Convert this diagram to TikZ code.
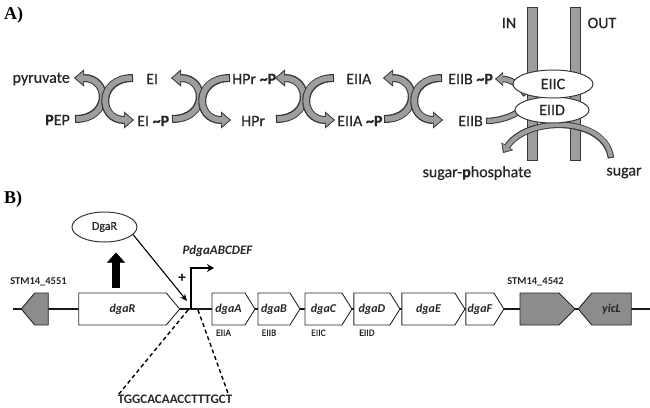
\documentclass[tikz,border=0pt]{standalone}
\usepackage{fontspec}
\setmainfont{Carlito}
\newfontfamily\panelfont{Liberation Serif}
\newfontfamily\heavyfont{Carlito}[RawFeature={embolden=0.5}]
\usetikzlibrary{arrows.meta, positioning, shapes.geometric, shapes.symbols}

\definecolor{bandfill}{gray}{0.62}
\definecolor{bandedge}{gray}{0.22}
\definecolor{genegray}{gray}{0.55}

\tikzset{
  panel/.style={font=\panelfont\bfseries\fontsize{18}{20}\selectfont, anchor=west, inner sep=0pt},
  chem/.style={font=\heavyfont\fontsize{16}{18}\selectfont, text=black!85, inner sep=0pt},
  broad/.style={draw=bandedge, line width=8pt, -{Triangle[length=10pt,width=17pt,line width=0.4pt]},
    postaction={draw=bandfill, line width=5.6pt, shorten <=1.2pt, shorten >=1.6pt,
      -{Triangle[length=7.6pt,width=13pt,line width=0.4pt]}}},
  broadsmall/.style={draw=bandedge, line width=6.5pt, -{Triangle[length=8pt,width=14pt,line width=0.4pt]},
    postaction={draw=bandfill, line width=4.4pt, shorten <=1.1pt, shorten >=1.5pt,
      -{Triangle[length=6pt,width=10.5pt,line width=0.4pt]}}},
  band/.style={draw=bandedge, line width=6.5pt,
    postaction={draw=bandfill, line width=4.4pt, shorten <=1.1pt}},
  membrane/.style={fill=bandfill, draw=bandedge, line width=1pt},
  protein/.style={ellipse, draw=bandedge, line width=1pt, fill=white, inner sep=0pt,
    font=\heavyfont\fontsize{16}{18}\selectfont, text=black!85},
  gene/.style={signal, signal to=east, signal pointer angle=116, draw=black!85, line width=0.9pt,
    fill=white, minimum height=32pt, inner sep=0pt, text=black!85,
    font=\bfseries\itshape\fontsize{12}{14}\selectfont},
  othergene/.style={gene, fill=genegray, signal pointer angle=100},
  tag/.style={font=\bfseries\fontsize{10.5}{12}\selectfont, text=black!85, inner sep=0pt},
  sub/.style={font=\heavyfont\fontsize{9.5}{11}\selectfont, text=black!85, inner sep=0pt},
  dna/.style={line width=2pt, black!90},
  express/.style={line width=8pt, -{Triangle[length=10pt,width=18pt,line width=0.4pt]}},
  regulate/.style={line width=1.1pt, -{Stealth[length=7pt,width=6pt]}},
  promoter/.style={line width=1.3pt, -{Stealth[length=7pt,width=8pt]}},
  cut/.style={line width=1.4pt, dashed, dash pattern=on 4pt off 3pt}
}

\begin{document}
\begin{tikzpicture}[x=1pt, y=-1pt]
\useasboundingbox (0,0) rectangle (650,407);

% ---------- A) ----------
\node (panA) [panel] at (4,15) {A)};

% membrane
\draw [membrane] (527,7) rectangle (537,160);
\draw [membrane] (570,7) rectangle (580,160);
\node (inside) [chem] at (509,23) {IN};
\node (outside) [chem] at (602,23) {OUT};

% phosphate relay
\node (pyr) [chem, anchor=east] at (70,79) {pyruvate};
\node (pep) [chem, anchor=east] at (70,120) {\textbf{P}EP};
\node (ei) [chem, anchor=west] at (146,79) {EI};
\node (eip) [chem, anchor=west] at (137,121) {EI \textbf{\textasciitilde P}};
\node (hprp) [chem, anchor=west] at (232,79) {HPr \textbf{\textasciitilde P}};
\node (hpr) [chem, anchor=west] at (241,121) {HPr};
\node (eiia) [chem, anchor=west] at (346,79) {EIIA};
\node (eiiap) [chem, anchor=west] at (337,121) {EIIA \textbf{\textasciitilde P}};
\node (eiibp) [chem, anchor=west] at (448,79) {EIIB \textbf{\textasciitilde P}};
\node (eiib) [chem, anchor=west] at (458,121) {EIIB};

\foreach \c in {104,201,305,413} {
  \draw [broad] (\c-29,119) .. controls +(36,0) and +(36,0) .. (\c-30,78);
  \draw [broad] (\c+29,78) .. controls +(-36,0) and +(-36,0) .. (\c+30,120);
}

% transporter
\coordinate (eiicfoot) at (526,95);
\coordinate (eiidfoot) at (523,108);
\draw [broadsmall] (eiicfoot) .. controls +(-6,-11) and +(14,0) .. ([xshift=2pt]eiibp.east);
\draw [band] ([xshift=3pt]eiib.east) .. controls +(14,0) and +(-6,7) .. (eiidfoot);

\node (sugar) [chem] at (624,173) {sugar};
\node (sugarp) [chem] at (477,173) {sugar-\textbf{p}hosphate};
\coordinate (sugarin) at (611,158);
\coordinate (sugarout) at (503,153);
\draw [broadsmall] (sugarin) .. controls (605,116) and (527,116) .. (sugarout);

\node (eiid) [protein, minimum width=74pt, minimum height=26pt] at (552,110) {EIID};
\node (eiic) [protein, minimum width=80pt, minimum height=28pt] at (553,84) {EIIC};

% ---------- B) ----------
\node (panB) [panel] at (4,199) {B)};

\coordinate (dnaleft) at (13,309);
\coordinate (dnaright) at (650,309);
\draw [dna] (dnaleft) -- (dnaright);

\node (g4551) [othergene, signal to=west, minimum width=27pt] at (41.5,309) {};
\node (dgaR) [gene, signal pointer angle=100, minimum width=101pt] at (122.5,309) {dgaR};
\node (dgaA) [gene, minimum width=43pt] at (228.5,309) {dgaA};
\node (dgaB) [gene, minimum width=42pt, right=2pt of dgaA] {dgaB};
\node (dgaC) [gene, minimum width=47pt, right=4pt of dgaB] {dgaC};
\node (dgaD) [gene, minimum width=46pt, right=1pt of dgaC] {dgaD};
\node (dgaE) [gene, minimum width=63pt, right=1pt of dgaD] {dgaE};
\node (dgaF) [gene, minimum width=38pt, right=0pt of dgaE] {dgaF};
\node (g4542) [othergene, signal pointer angle=90, minimum width=55pt] at (539.5,309) {};
\node (yicL) [othergene, signal to=west, minimum width=53pt] at (611.5,309) {yicL};

\node (t4551) [tag, above=6pt of g4551, xshift=-3pt] {STM14\_4551};
\node (t4542) [tag, above=6pt of g4542, xshift=-4pt] {STM14\_4542};

\node (sA) [sub, below=4pt of dgaA, xshift=-5pt] {EIIA};
\node (sB) [sub, below=4pt of dgaB, xshift=-5pt] {EIIB};
\node (sC) [sub, below=4pt of dgaC, xshift=-5pt] {EIIC};
\node (sD) [sub, below=4pt of dgaD, xshift=-5pt] {EIID};

% regulator
\node (dgaRprot) [protein, minimum width=65pt, minimum height=30pt, font=\heavyfont\fontsize{12}{14}\selectfont] at (104.5,227) {DgaR};
\draw [express, shorten <=5pt] ([xshift=-6.5pt]dgaR.north) -- ++(0,-40);
\coordinate (bindsite) at (187,301);
\draw [regulate] (dgaRprot.-15) -- (bindsite);
\node (plus) [font=\bfseries\fontsize{15}{17}\selectfont, inner sep=0pt] at (182,278) {+};

% promoter
\coordinate (pbase) at (191,309);
\coordinate (ptip) at (214,268);
\draw [promoter] (pbase) |- (ptip);
\node (pname) [font=\bfseries\itshape\fontsize{13}{15}\selectfont, text=black!85, inner sep=0pt] at (217.5,251) {PdgaABCDEF};

% binding sequence
\node (seq) [font=\bfseries\fontsize{13}{15}\selectfont, text=black!85, inner sep=0pt] at (175,399) {TGGCACAACCTTTGCT};
\coordinate (dashl) at (188,310);
\coordinate (dashr) at (198,310);
\draw [cut] (dashl) -- ([xshift=1pt]seq.north west);
\draw [cut] (dashr) -- ([xshift=-4pt]seq.north east);

\end{tikzpicture}
\end{document}
